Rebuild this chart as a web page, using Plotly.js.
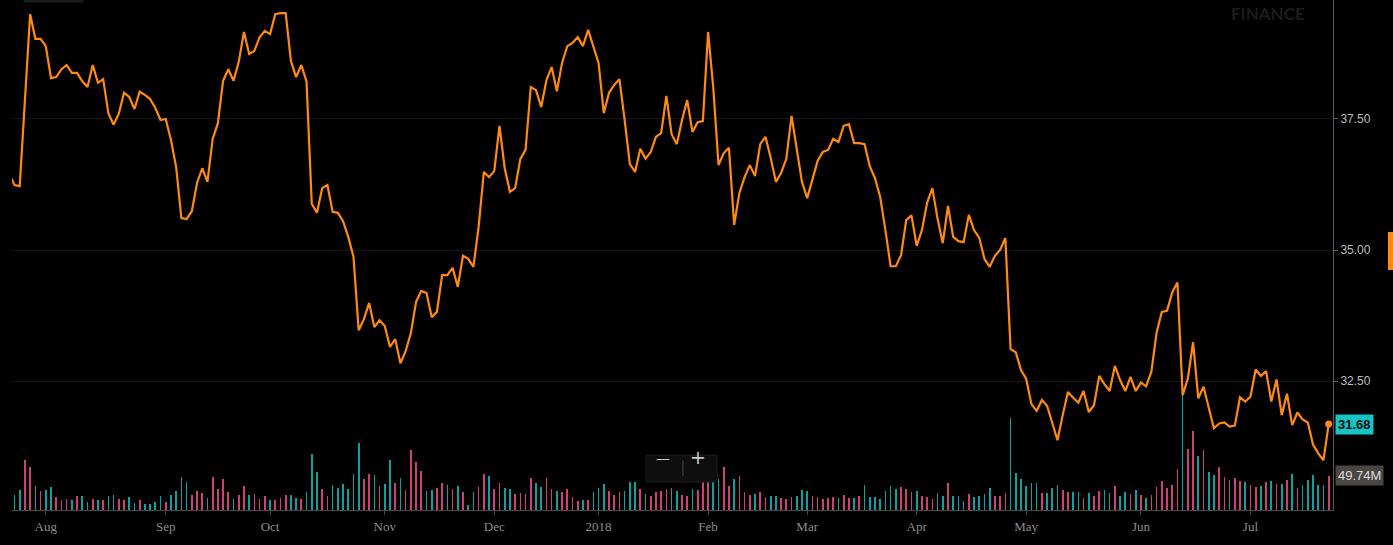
<!DOCTYPE html>
<html>
<head>
<meta charset="utf-8">
<script src="https://cdn.plot.ly/plotly-3.0.1.min.js"></script>
<style>
html, body {margin:0; padding:0; background:#000;}
#chart {width:1393px; height:545px;}
</style>
</head>
<body>
<div id="chart"></div>
<script>
// Daily closes, one per trading day (the first one sits just left of the frame).
var closes = [
36.45, 36.24, 36.22, 37.90, 39.50, 39.03, 39.03, 38.89, 38.28, 38.30,
38.45, 38.53, 38.38, 38.38, 38.22, 38.11, 38.53, 38.19, 38.26, 37.61,
37.39, 37.60, 38.00, 37.92, 37.69, 38.02, 37.96, 37.88, 37.71, 37.48,
37.50, 37.10, 36.58, 35.61, 35.59, 35.74, 36.28, 36.56, 36.30, 37.12,
37.42, 38.23, 38.45, 38.23, 38.59, 39.16, 38.74, 38.80, 39.06, 39.18,
39.12, 39.50, 39.52, 39.52, 38.61, 38.30, 38.53, 38.21, 35.88, 35.71,
36.18, 36.24, 35.73, 35.71,
35.55, 35.25, 34.87, 33.47, 33.68, 33.99, 33.53, 33.66, 33.55, 33.15,
33.30, 32.84, 33.07, 33.41, 34.01, 34.22, 34.18, 33.72, 33.82, 34.52,
34.52, 34.66, 34.30, 34.89, 34.83, 34.68, 35.44, 36.49, 36.39, 36.51,
37.37, 36.56, 36.11, 36.18, 36.74, 36.91, 38.11, 38.05, 37.73, 38.24,
38.49, 38.03, 38.57, 38.89, 38.95, 39.06, 38.89, 39.20, 38.87, 38.57,
37.61, 38.00, 38.15, 38.26, 37.48, 36.64, 36.49, 36.93, 36.74, 36.87,
37.16, 37.23, 37.94, 37.21, 37.02, 37.48, 37.86, 37.25, 37.44, 37.46,
39.16, 38.09, 36.62, 36.85, 36.95, 35.48, 36.09, 36.39, 36.62, 36.41,
37.02, 37.16, 36.76, 36.30, 36.47, 36.74, 37.56, 36.95, 36.30, 35.99,
36.37, 36.70, 36.87, 36.91, 37.12, 37.06, 37.37, 37.40, 37.04, 37.04,
37.02, 36.60, 36.37, 36.01, 35.38, 34.69, 34.69, 34.90, 35.57, 35.66,
35.08, 35.38, 35.90, 36.18, 35.60, 35.13, 35.84, 35.25, 35.17, 35.15,
35.67, 35.38, 35.23, 34.83, 34.68, 34.89, 35.00, 35.23, 33.11, 33.05,
32.71, 32.54, 32.06, 31.93, 32.14, 32.03, 31.70, 31.37, 31.85, 32.29,
32.18, 32.09, 32.31, 31.91, 32.04, 32.60, 32.44, 32.31, 32.79, 32.52,
32.31, 32.58, 32.31, 32.47, 32.40, 32.68, 33.42, 33.82, 33.84, 34.19,
34.38, 32.23, 32.55, 33.24, 32.17, 32.39, 31.99, 31.60, 31.69, 31.71,
31.63, 31.65, 32.19, 32.11, 32.20, 32.72, 32.60, 32.69, 32.11, 32.53,
31.85, 32.26, 31.66, 31.90, 31.77, 31.71, 31.29, 31.12, 30.99, 31.68
];

// Volume in millions, from day 1 on (day 0 is off the left edge).
var volumes = [
22.2, 29.4, 72.9, 61.9, 35.2, 28.0, 29.4, 33.8, 18.4, 14.9,
16.4, 14.9, 19.9, 20.7, 12.0, 16.4, 14.1, 14.1, 20.7, 22.2,
16.4, 14.1, 19.3, 10.6, 14.1, 9.1, 9.1, 12.0, 20.7, 12.0,
22.2, 28.0, 48.3, 41.0, 22.2, 28.0, 25.1, 17.8, 48.3, 30.9,
45.4, 26.5, 16.4, 22.2, 35.2, 22.2, 23.6, 16.4, 20.7, 14.9,
14.9, 17.8, 22.2, 22.2, 17.8, 16.4, 26.5, 81.6, 55.5, 30.9,
20.7, 36.7, 32.3, 38.1,
30.9, 52.6, 97.6, 45.4, 52.6, 51.2, 35.2, 38.1, 72.9, 39.6,
46.8, 29.4, 87.4, 70.0, 57.0, 28.0, 29.4, 32.3, 39.6, 36.7,
30.9, 35.2, 26.5, 7.7, 26.5, 33.8, 52.6, 49.7, 30.9, 39.6,
32.3, 30.9, 23.6, 25.1, 23.6, 46.8, 39.6, 33.8, 46.8, 30.9,
28.0, 26.5, 30.9, 19.3, 13.5, 14.9, 14.9, 26.5, 32.3, 38.1,
28.0, 22.2, 26.5, 28.0, 41.0, 41.0, 30.9, 23.6, 20.7, 26.5,
28.0, 30.9, 32.3,
28.0, 22.2, 20.7, 30.9, 29.4, 41.0, 42.5, 42.5, 45.4, 62.8,
35.2, 45.4, 49.7, 26.5, 22.2, 23.6, 26.5, 19.3, 20.7, 20.7,
17.8, 16.4, 19.3, 20.7, 29.4, 28.0, 20.7, 19.3, 16.4, 17.8,
19.3, 17.8, 22.2, 17.8, 17.8, 20.7, 36.7, 19.3, 19.3, 16.4,
28.0, 35.2, 30.9, 33.8, 30.9, 26.5, 28.0, 20.7, 19.3, 16.4,
25.1, 20.7, 39.6, 20.7, 20.7, 13.5, 23.6, 19.3, 20.7, 23.6,
32.3, 20.7, 20.7,
25.1, 133.8, 54.1, 45.4, 35.2, 39.6, 39.6, 25.1, 25.1, 32.3,
36.7, 29.4, 26.5, 26.5, 26.5, 17.8, 25.1, 20.7, 28.0, 29.4,
25.1, 35.2, 20.7, 26.5, 23.6, 29.4, 22.2, 17.8, 22.2, 33.8,
42.5, 32.3, 36.7, 59.9, 198.7, 88.9, 115.0, 78.7, 87.4, 55.5,
51.2, 62.8, 48.3, 43.9, 46.8, 42.5, 41.0, 36.7, 33.8, 35.2,
41.0, 42.5, 38.1, 38.1, 43.9, 52.6, 32.3, 36.7, 43.9, 51.2,
36.7, 36.7, 49.74
];

// Candle direction per volume bar: T = closed above open, P = closed below.
var candleDir = (
"TTPPTPTTPP" + "PTPTTPTPTT" + "PPTTPTTTTP" + "TTTTPPPTPP" + "PPTPPTPPPT" + "PPPTTPTTTP" + "PTTT" +
"TTTPPTPTTP" + "TPPPPTTPPT" + "PTPTTPPTPP" + "TTPPPPTTPP" + "TPPPPTPTTT" + "PPPTTTPTPP" + "PPT" +
"TPPTPPPTTP" + "PTPPPTPPTT" + "PPPTTTPPPP" + "PTPPTPTTTT" + "TTTPPPTPPP" + "TTPTTTPTTT" + "TPP" +
"PTTTTTTPTT" + "TPPTTPTPPT" + "TPTTPTPTPP" + "PPPPTPPTPT" + "TPPTPPTPPT" + "PTPTPTPTTT" + "TTP"
).split('');

var monthTicks = [7, 30, 50, 72, 93, 113, 134, 153, 174, 195, 217, 238];
var monthLabels = ['Aug', 'Sep', 'Oct', 'Nov', 'Dec', '2018', 'Feb', 'Mar', 'Apr', 'May', 'Jun', 'Jul'];
var priceTicks = [32.5, 35, 37.5];

var teal = '#0ba3a1';
var pink = '#cf3f78';
var orange = '#ff8a12';

var day_idx = closes.map(function(c, i){ return i; });
var vol_idx = volumes.map(function(v, i){ return i + 1; });
var bar_colors = candleDir.map(function(d){ return d == 'T' ? teal : pink; });
var last = closes.length - 1;
var last_vol = volumes[volumes.length - 1];

var volume_trace = {
x: vol_idx,
y: volumes,
type: 'bar',
width: 0.32,
marker: {color: bar_colors, line: {width: 0}},
yaxis: 'y',
hoverinfo: 'skip'
};

var price_trace = {
x: day_idx,
y: closes,
type: 'scatter',
mode: 'lines',
line: {color: orange, width: 2.2},
yaxis: 'y2',
hoverinfo: 'skip'
};

var last_dot = {
x: [last],
y: [closes[last]],
type: 'scatter',
mode: 'markers',
marker: {color: orange, size: 7},
yaxis: 'y2',
cliponaxis: false,
hoverinfo: 'skip'
};

var layout = {
width: 1393,
height: 545,
margin: {l: 12, r: 60, t: 0, b: 35},
paper_bgcolor: '#000',
plot_bgcolor: '#000',
showlegend: false,
hovermode: false,
bargap: 0,
xaxis: {
range: [0.52, 253.83],
showgrid: false,
zeroline: false,
showline: true,
linecolor: '#4a4a4a',
linewidth: 1,
ticks: 'outside',
ticklen: 4,
tickcolor: '#4a4a4a',
tickvals: monthTicks,
ticktext: monthLabels,
tickfont: {family: 'Liberation Serif', size: 13, color: '#8c8c8c'}
},
yaxis: {
range: [0, 739.6],
visible: false,
fixedrange: true
},
yaxis2: {
overlaying: 'y',
side: 'right',
anchor: 'x',
range: [30.04, 39.77],
showline: true,
linecolor: '#5a5a5a',
linewidth: 1,
ticks: 'outside',
ticklen: 4,
tickcolor: '#5a5a5a',
tickvals: priceTicks,
ticktext: priceTicks.map(function(v){ return v.toFixed(2); }),
tickfont: {family: 'Liberation Sans', size: 12, color: '#bdbdbd'},
showgrid: true,
gridcolor: '#161616',
gridwidth: 1,
zeroline: false
},
shapes: [
// zoom control box
{type: 'rect', xref: 'paper', yref: 'paper', x0: 0.4799, x1: 0.5337, y0: 0.0549, y1: 0.1078,
 fillcolor: '#0e0e0e', line: {color: '#1e1e1e', width: 1}, layer: 'above'},
{type: 'line', xref: 'paper', yref: 'paper', x0: 0.5079, x1: 0.5079, y0: 0.066, y1: 0.097,
 line: {color: '#4a4a4a', width: 1}, layer: 'above'},
// orange tab on the right edge
{type: 'rect', xref: 'paper', yref: 'paper', x0: 1.0416, x1: 1.06, y0: 0.4706, y1: 0.545,
 fillcolor: orange, line: {width: 0}},
// faint strip top left
{type: 'rect', xref: 'paper', yref: 'paper', x0: 0.009, x1: 0.054, y0: 0.995, y1: 1.0,
 fillcolor: '#1c1c1c', line: {width: 0}}
],
annotations: [
{xref: 'paper', yref: 'paper', x: 0.9508, y: 0.998, text: '<b>FINANCE</b>', showarrow: false,
 xanchor: 'center', yanchor: 'top', font: {family: 'Lato', size: 17, color: '#1c1c1c'}},
{xref: 'paper', yref: 'paper', x: 0.4928, y: 0.0824, text: '\u2014', showarrow: false,
 font: {family: 'DejaVu Sans', size: 14, color: '#c8c8c8'}},
{xref: 'paper', yref: 'paper', x: 0.5193, y: 0.079, text: '+', showarrow: false,
 font: {family: 'DejaVu Sans', size: 19, color: '#c8c8c8'}},
{xref: 'paper', yref: 'y2', x: 1, y: closes[last], xshift: 2, xanchor: 'left', yanchor: 'middle',
 text: '<b>' + closes[last].toFixed(2) + '</b>', showarrow: false, bgcolor: '#15c4c4', borderpad: 2,
 font: {family: 'Liberation Sans', size: 13, color: '#0a0a0a'}},
{xref: 'paper', yref: 'y', x: 1, y: last_vol, xshift: 2, xanchor: 'left', yanchor: 'middle',
 text: last_vol.toFixed(2) + 'M', showarrow: false, bgcolor: '#4a4641', borderpad: 2,
 font: {family: 'Liberation Sans', size: 13, color: '#dcdcdc'}}
]
};

var config = {displayModeBar: false, staticPlot: true};

Plotly.newPlot('chart', [volume_trace, price_trace, last_dot], layout, config);
</script>
</body>
</html>
